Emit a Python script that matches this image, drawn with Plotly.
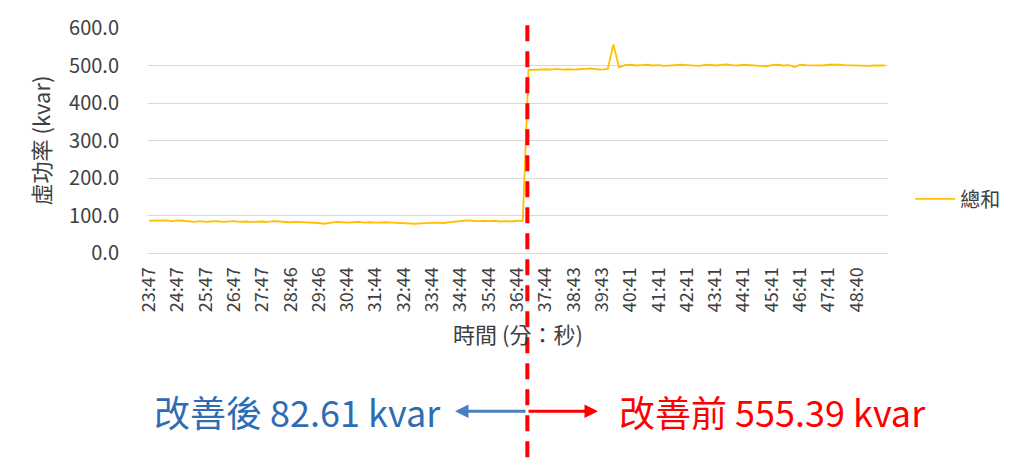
import plotly.graph_objects as go

# ---- data ----
tick_labels = ["23:47", "24:47", "25:47", "26:47", "27:47", "28:46", "29:46", "30:44",
               "31:44", "32:44", "33:44", "34:44", "35:44", "36:44", "37:44", "38:43",
               "39:43", "40:41", "41:41", "42:41", "43:41", "44:41", "45:41", "46:41",
               "47:41", "48:40"]
samples_per_label = 5

low_values = [86, 87, 86, 87, 85, 87, 86, 84, 83, 85,
              83, 84, 85, 83, 84, 85, 83, 84, 83, 84,
              84, 83, 85, 84, 83, 82, 83, 82, 83, 81,
              80, 78, 80, 83, 82, 81, 82, 83, 81, 82,
              81, 82, 82, 81, 80, 79, 80, 78, 79, 80,
              80, 81, 80, 82, 82, 84, 87, 86, 85, 86,
              85, 86, 84, 85, 84, 86, 86]
high_values = [488, 489, 489, 490, 489, 491, 489, 490, 489, 490,
               490, 492, 490, 489, 491, 556, 495,
               501, 502, 500, 501, 502, 500, 501, 499, 500, 501,
               502, 501, 500, 499, 501, 502, 500, 501, 503, 501,
               500, 502, 501, 500, 499, 498, 501, 502, 500, 501,
               496, 502, 501, 500, 501, 500, 502, 503, 502, 501,
               500, 501, 500, 499, 500, 501, 500]
values = low_values + high_values
series_name = "總和"
before_text = "改善後 82.61 kvar"
after_text = "改善前 555.39 kvar"
divider_index = 66.8

x = list(range(len(values)))
tickvals = [i * samples_per_label for i in range(len(tick_labels))]

FONT = "Noto Sans CJK TC"
GREY = "#404040"

fig = go.Figure()
fig.add_trace(go.Scatter(x=x, y=values, mode="lines", name=series_name,
                         line=dict(color="#FFC000", width=1.8)))

# plot geometry (px) for paper conversions
L, R, T, B = 148, 888, 24, 253
W, H = R - L, B - T


def px_x(px):
    return (px - L) / W


def px_y(py):
    return (B - py) / H


fig.add_shape(type="line", xref="x", yref="paper",
              x0=divider_index, x1=divider_index, y0=px_y(461), y1=px_y(15),
              line=dict(color="#FF0000", width=4, dash="16px,10px"))

# arrows
fig.add_annotation(xref="paper", yref="paper", x=px_x(455), y=px_y(414),
                   ax=72, ay=0, axref="pixel", ayref="pixel", text="",
                   showarrow=True, arrowhead=2, arrowsize=0.9, arrowwidth=3,
                   arrowcolor="#4A7EC0")
fig.add_annotation(xref="paper", yref="paper", x=px_x(598), y=px_y(414),
                   ax=-71, ay=0, axref="pixel", ayref="pixel", text="",
                   showarrow=True, arrowhead=2, arrowsize=0.9, arrowwidth=3,
                   arrowcolor="#FF0000")
fig.add_annotation(xref="paper", yref="paper", x=px_x(297), y=px_y(414),
                   xanchor="center", yanchor="middle",
                   text=before_text, showarrow=False,
                   font=dict(family=FONT, size=36, color="#2E6DB4"))
fig.add_annotation(xref="paper", yref="paper", x=px_x(772), y=px_y(414),
                   xanchor="center", yanchor="middle",
                   text=after_text, showarrow=False,
                   font=dict(family=FONT, size=36, color="#FF0000"))

fig.update_layout(
    width=1024, height=461,
    margin=dict(l=L, r=1024 - R, t=T, b=461 - B, pad=0),
    paper_bgcolor="white", plot_bgcolor="white",
    font=dict(family=FONT, color=GREY),
    showlegend=True,
    legend=dict(x=1.03, y=px_y(198), xanchor="left", yanchor="middle",
                font=dict(family=FONT, size=20, color=GREY),
                bgcolor="rgba(0,0,0,0)", itemwidth=40),
    xaxis=dict(range=[-0.2, len(values) - 0.5], tickvals=tickvals, ticktext=tick_labels,
               tickangle=-90, tickfont=dict(family=FONT, size=18, color=GREY),
               showgrid=False, zeroline=False, showline=True, linecolor="#D9D9D9",
               linewidth=1, ticks="outside", ticklen=6, tickcolor="rgba(0,0,0,0)",
               title=dict(text="時間 (分：秒)", font=dict(family=FONT, size=22, color=GREY),
                          standoff=16)),
    yaxis=dict(range=[0, 600], dtick=100, tickformat=".1f",
               tickfont=dict(family=FONT, size=20, color=GREY),
               showgrid=True, gridcolor="#D9D9D9", gridwidth=1, zeroline=False,
               showline=False, ticks="outside", ticklen=24, tickcolor="rgba(0,0,0,0)",
               title=dict(text="虛功率 (kvar)", font=dict(family=FONT, size=22, color=GREY),
                          standoff=12)),
)

fig.write_html("out.html")
